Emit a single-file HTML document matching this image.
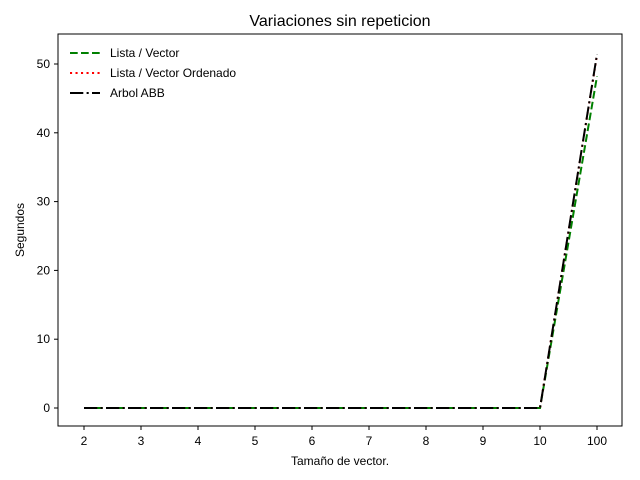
<!DOCTYPE html>
<html><head><meta charset="utf-8"><style>body{margin:0;background:#fff}svg{display:block;font-family:"Liberation Sans","DejaVu Sans",sans-serif}</style></head>
<body>
<svg id="c" width="640" height="480">
<text x="340" y="26" text-anchor="middle" font-size="16">Variaciones sin repeticion</text>
<g id="plot"></g>
<rect x="58" y="34" width="564" height="392" fill="none" stroke="#000" stroke-width="1"/>
<text x="340" y="465" text-anchor="middle" font-size="12">Tamaño de vector.</text>
<text transform="translate(24,230) rotate(-90)" text-anchor="middle" font-size="12">Segundos</text>
<g>
<line x1="70" y1="53" x2="100" y2="53" stroke="#008000" stroke-width="2" stroke-dasharray="7.7,3.3"/>
<text x="110" y="57" font-size="12">Lista / Vector</text>
<line x1="70" y1="73" x2="100" y2="73" stroke="#ff0000" stroke-width="2" stroke-dasharray="2.1,3.4"/>
<text x="110" y="77" font-size="12">Lista / Vector Ordenado</text>
<line x1="70" y1="93" x2="100" y2="93" stroke="#000" stroke-width="2" stroke-dasharray="13.3,3.3,2.1,3.3"/>
<text x="110" y="97" font-size="12">Arbol ABB</text>
</g>
</svg>
<script>
const categories=["2","3","4","5","6","7","8","9","10","100"];
const listaValues=[0,0,0,0,0,0,0,0,0,48.2];
const ordenadoValues=[0,0,0,0,0,0,0,0,0,51.3];
const abbValues=[0,0,0,0,0,0,0,0,0,51.4];
const yTicks=[0,10,20,30,40,50];
const NS="http://www.w3.org/2000/svg";
const g=document.getElementById('plot');
function xs(i){return 84+i*57;}
function ys(v){return 408-v*6.88;}
function mk(t,a){const e=document.createElementNS(NS,t);for(const k in a)e.setAttribute(k,a[k]);g.appendChild(e);return e;}
categories.forEach((c,i)=>{
 const l=mk('line',{x1:xs(i),x2:xs(i),y1:426,y2:430,stroke:'#000'});
 
 
 const t=mk('text',{x:xs(i),y:445,'text-anchor':'middle','font-size':12});t.textContent=c;
 
 
});
yTicks.forEach(v=>{
 const l=mk('line',{x1:54,x2:58,y1:ys(v),y2:ys(v),stroke:'#000'});
 
 
 const t=mk('text',{x:50,y:ys(v)+4,'text-anchor':'end','font-size':12});t.textContent=v;
 
 
});
function series(vals,color,dash,name){
 const p=mk('polyline',{points:vals.map((v,i)=>xs(i)+','+ys(v)).join(' '),fill:'none',stroke:color,'stroke-width':2,'stroke-dasharray':dash});
 
 
}
series(listaValues,'#008000','7.7,3.3','series-lista-vector');
series(ordenadoValues,'#ff0000','2.1,3.4','series-lista-ordenado');
series(abbValues,'#000','13.3,3.3,2.1,3.3','series-arbol-abb');
</script>
</body></html>
